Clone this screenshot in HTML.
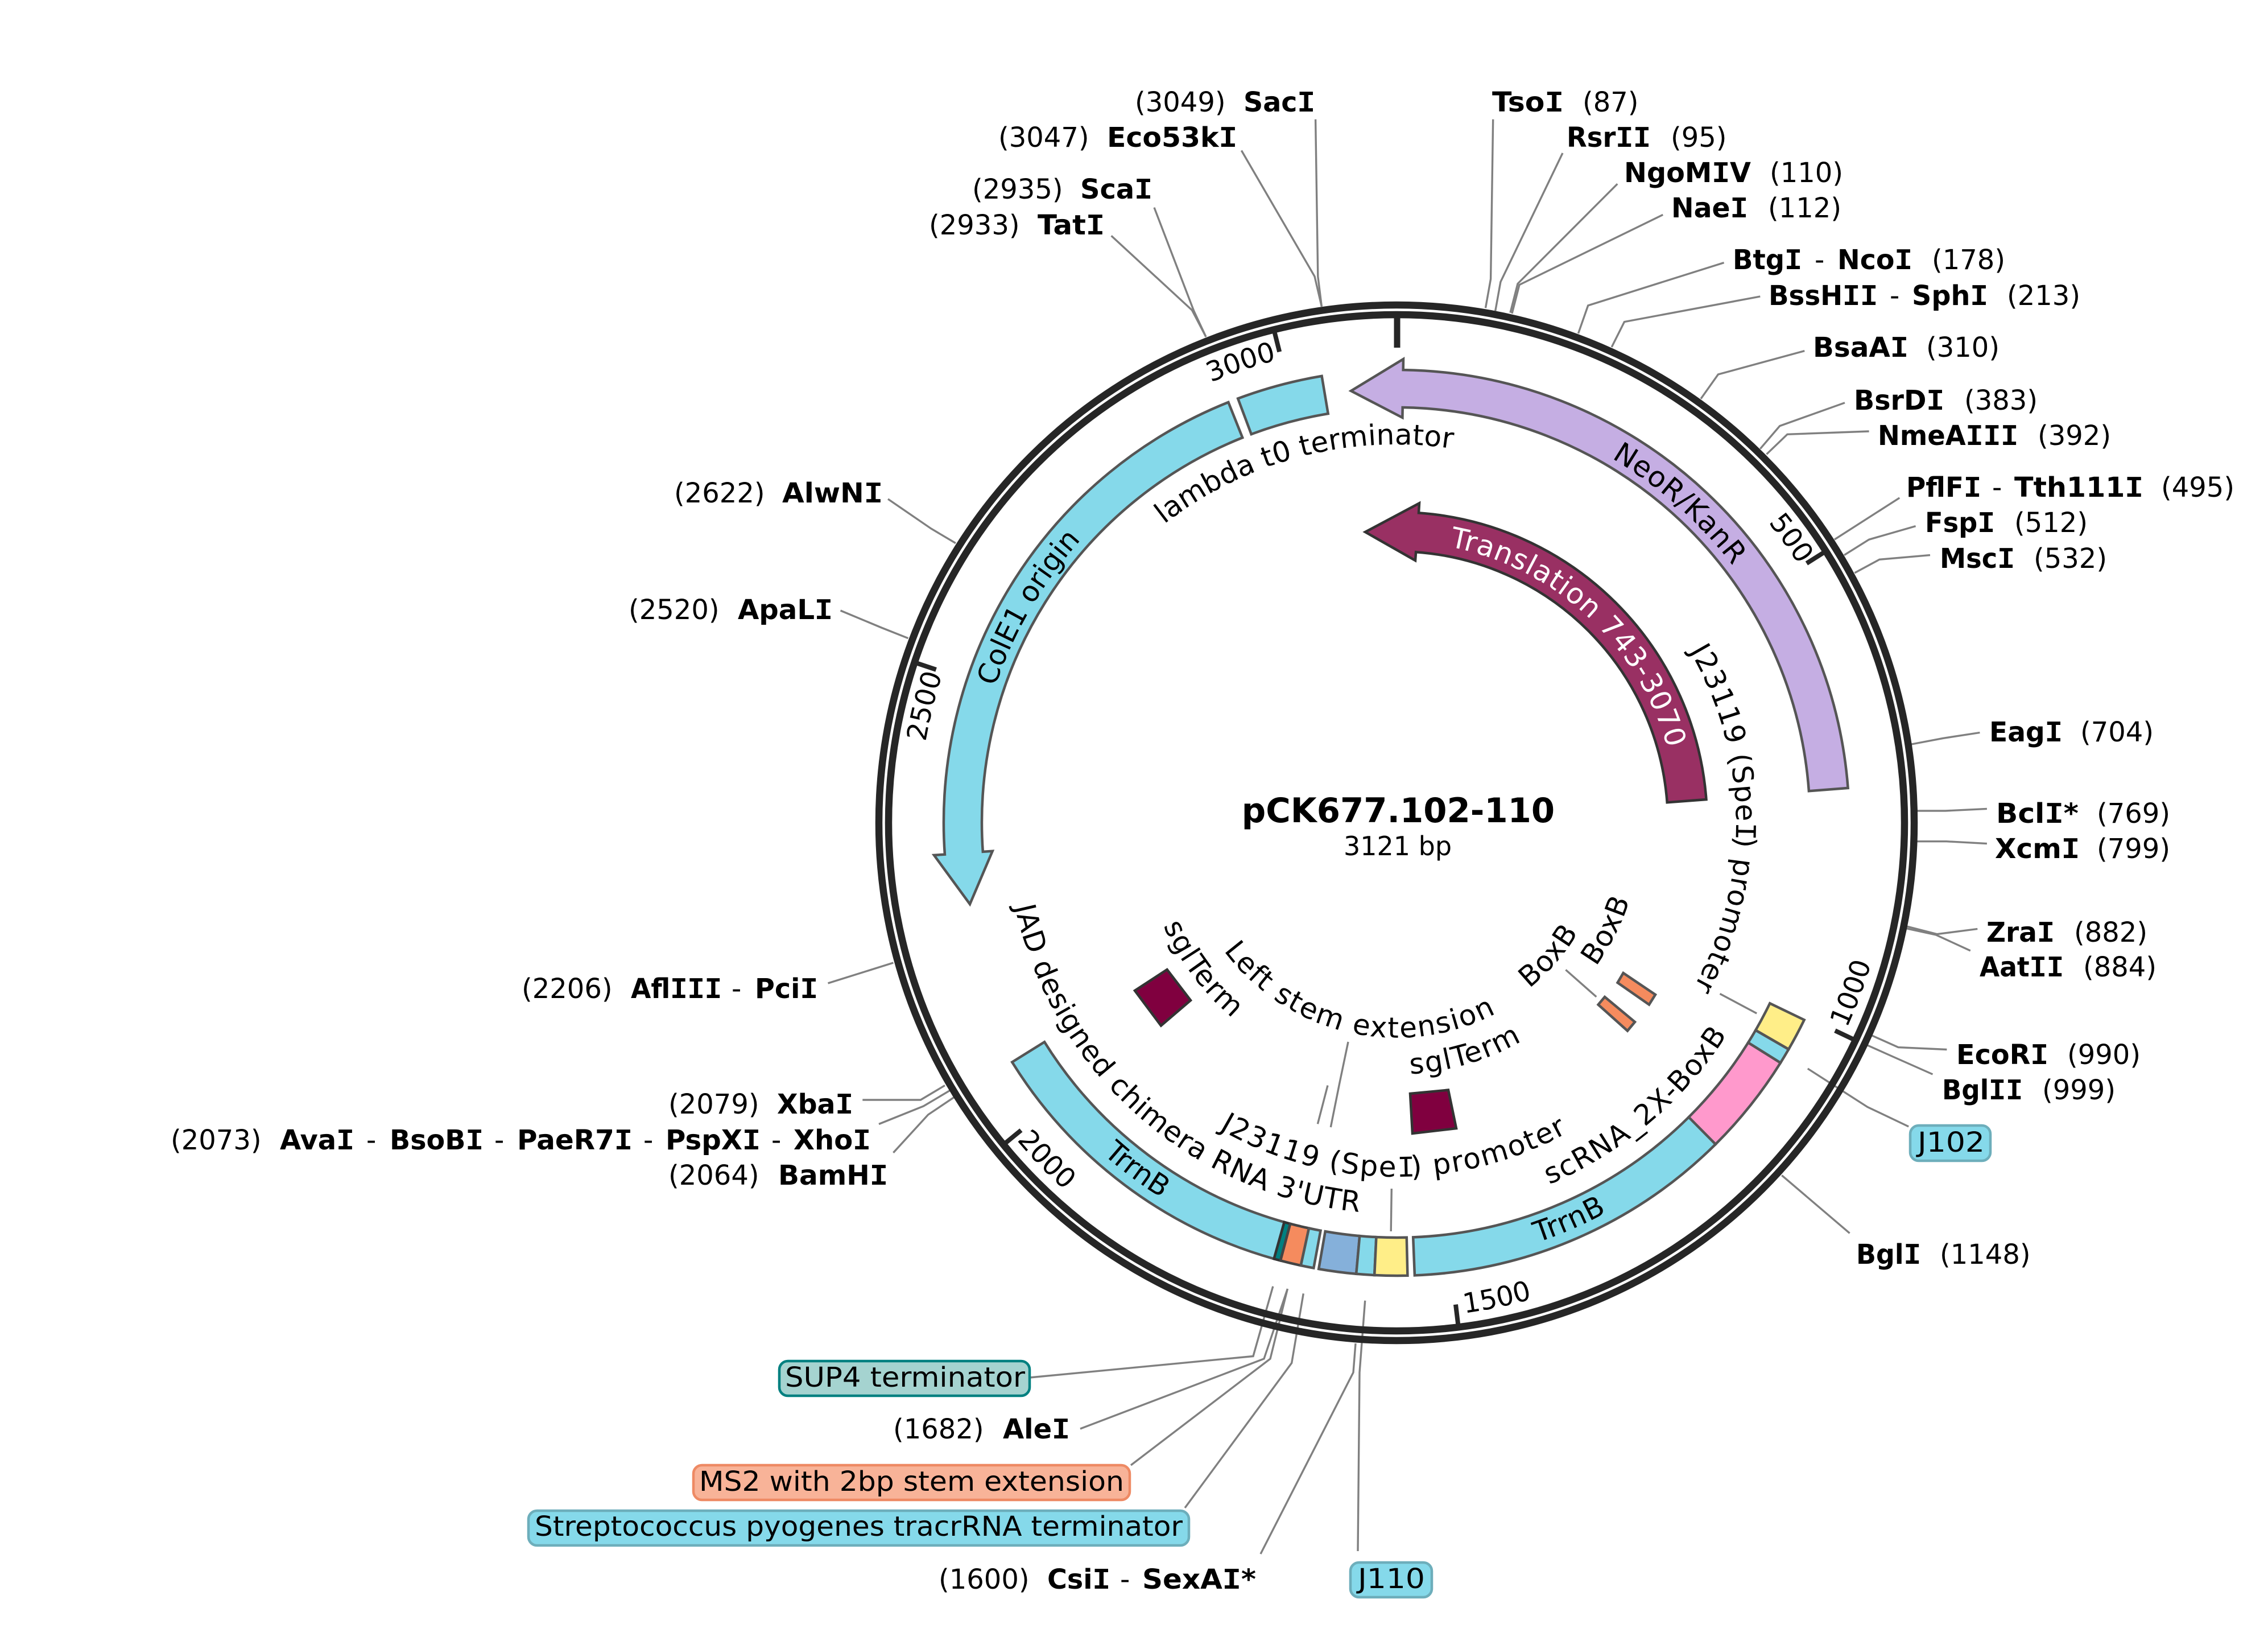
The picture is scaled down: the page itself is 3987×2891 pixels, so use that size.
<!DOCTYPE html>
<html><head><meta charset="utf-8"><title>pCK677.102-110</title>
<style>
html,body{margin:0;padding:0;background:#fff}
svg{display:block}
text{font-family:"DejaVu Sans","Liberation Sans",sans-serif;font-size:48px;fill:#000}
.b{font-weight:bold}
.i{font-family:"Liberation Mono","DejaVu Sans Mono",monospace;font-size:53px;font-weight:bold}
.j{font-family:"Liberation Mono","DejaVu Sans Mono",monospace;font-size:53px;letter-spacing:-7px}
.c{font-size:50px}
.l{fill:none;stroke:#808080;stroke-width:3.4}
.f{stroke:#555;stroke-width:4.5;stroke-linejoin:miter}
.blue{fill:#85d9ea}.yel{fill:#ffee88}
</style></head><body>
<svg xmlns="http://www.w3.org/2000/svg" width="3987" height="2891" viewBox="0 0 3987 2891">
<defs>
<path id="c744" d="M1711,1446A744,744 0 0 1 3199,1446"/>
<path id="c494" d="M1961,1446A494,494 0 0 1 2949,1446"/>
<path id="c597" d="M1858,1446A597,597 0 0 1 3052,1446"/>
<path id="c665" d="M1790,1446A665,665 0 0 1 3120,1446"/>
<path id="c745" d="M1710,1446A745,745 0 0 1 3200,1446"/>
<path id="c840" d="M1615,1446A840,840 0 0 1 3295,1446"/>
<path id="b778" d="M1677,1446A778,778 0 0 0 3233,1446"/>
<path id="b687" d="M1768,1446A687,687 0 0 0 3142,1446"/>
<path id="b622" d="M1833,1446A622,622 0 0 0 3077,1446"/>
<path id="b690" d="M1765,1446A690,690 0 0 0 3145,1446"/>
<path id="b378" d="M2077,1446A378,378 0 0 0 2833,1446"/>
<path id="b448" d="M2007,1446A448,448 0 0 0 2903,1446"/>
<path id="b442" d="M2013,1446A442,442 0 0 0 2897,1446"/>
<path id="b373" d="M2082,1446A373,373 0 0 0 2828,1446"/>
<path id="b432" d="M2023,1446A432,432 0 0 0 2887,1446"/>
<path id="b870" d="M1585,1446A870,870 0 0 0 3325,1446"/>
</defs>

<!-- connectors -->
<g class="l">
<polyline points="2312.6,209.7 2316.8,485.8 2323.4,538.8"/>
<polyline points="2182.4,264.5 2311,485.8 2323.4,538.8"/>
<polyline points="2029,364.7 2098.7,546.4 2120,592"/>
<polyline points="1953.6,414.4 2095.4,545 2120,592"/>
<polyline points="1561,877 1636.8,929 1680,954.6"/>
<polyline points="1477.5,1073 1549.4,1103 1596.5,1121.7"/>
<polyline points="2624.7,209.7 2620.6,490.3 2611.5,541.3"/>
<polyline points="2747,269 2637.9,495.4 2628.7,546.4"/>
<polyline points="2843.3,323.2 2668,498.6 2655,549.6"/>
<polyline points="2923.3,377.4 2671,500.5 2658,551"/>
<polyline points="3030.6,461.6 2791.7,536.9 2774.5,586"/>
<polyline points="3094.3,521 2855.5,565.6 2833.2,610"/>
<polyline points="3172.3,616.6 3020.4,658 2990,700.8"/>
<polyline points="3243,707.8 3128.7,748.6 3094.3,788.8"/>
<polyline points="3285.6,758 3142,763.3 3105.5,798.3"/>
<polyline points="3339.3,874.9 3224.9,948.2"/>
<polyline points="3367.6,924.6 3285.6,948.2 3242,975.6"/>
<polyline points="3393,975.6 3303.9,983.3 3260.3,1006.9"/>
<polyline points="3480.4,1287.5 3415.8,1297.4 3360.2,1308"/>
<polyline points="3492.9,1421.4 3420,1425 3370,1425"/>
<polyline points="3492.9,1482.6 3421.6,1478.7 3370,1478.7"/>
<polyline points="3476.3,1632.5 3405,1641.7 3351.9,1628"/>
<polyline points="3463.8,1670.8 3403.3,1643 3351.9,1631.8"/>
<polyline points="3422.4,1844.5 3337,1840.6 3288.9,1819"/>
<polyline points="3397.5,1888 3328.7,1857.5 3280.6,1836"/>
<polyline points="3355.2,1979.9 3283,1945.5 3177.8,1878"/>
<polyline points="3251.6,2167.3 3132.2,2065.6"/>
<polyline points="3023.5,1746.5 3088.2,1781"/>
<polyline points="2752.4,1704.4 2806.3,1751.9"/>
<polyline points="2446.3,2089 2445.2,2164"/>
<polyline points="2370,1831 2354.6,1904.7 2339.3,1981"/>
<polyline points="2334,1907.6 2316.4,1975.3"/>
<polyline points="2237.8,2260.7 2203,2383.5 1810,2421"/>
<polyline points="2263.4,2265 2222,2388 1899,2511"/>
<polyline points="2263.4,2265 2233,2388 1988,2575"/>
<polyline points="2291.3,2273.3 2270.7,2395.4 2083,2650"/>
<polyline points="2399.7,2285.7 2390,2412 2387,2726"/>
<polyline points="2383,2361 2379,2412 2216,2731"/>
<polyline points="1516.3,1933 1618.4,1933 1661,1907.6"/>
<polyline points="1545,1975.5 1623.5,1944 1669.4,1916.7"/>
<polyline points="1570.4,2025.8 1631.6,1959 1676.5,1928.8"/>
<polyline points="1455.5,1728 1570.4,1692"/>
</g>

<!-- backbone -->
<g fill="none" stroke="#262626">
<circle cx="2455" cy="1446" r="910" stroke-width="12.5"/>
<circle cx="2455" cy="1446" r="893" stroke-width="12.5"/>
<line x1="2456" y1="558" x2="2456" y2="611" stroke-width="11"/>
<g stroke-width="8">
<line x1="3175.9" y1="990.1" x2="3205.5" y2="971.4"/>
<line x1="3225.9" y1="1811.2" x2="3257.5" y2="1826.2"/>
<line x1="2559" y1="2292.6" x2="2563.2" y2="2327.3"/>
<line x1="1795" y1="1986.3" x2="1767.9" y2="2008.5"/>
<line x1="1645.6" y1="1176.8" x2="1612.4" y2="1165.7"/>
<line x1="2249.2" y1="618.3" x2="2240.7" y2="584.3"/>
</g></g>

<!-- features -->
<path class="f" fill="#c5aee3" d="M3248.6,1384.9A796,796 0 0 0 2466.7,650.1L2467,631L2375,687L2465.4,734L2465.7,716A728,728 0 0 1 3179.9,1390.2Z"/>
<path d="M2999.5,1405A546,546 0 0 0 2494,901.4L2495,884.4L2400,935L2488,985L2489.1,970.2A477,477 0 0 1 2930.7,1410.2Z" fill="#993063" stroke="#333" stroke-width="4.5"/>
<path class="f blue" d="M2176.2,700.4A796,796 0 0 1 2323.6,660.9L2334.7,727A729,729 0 0 0 2199.7,763.1Z"/>
<path class="f blue" d="M2159.4,706.9A796,796 0 0 0 1660.9,1501.6L1642,1502.9L1705,1589L1744.7,1495.7L1727.8,1496.9A729,729 0 0 1 2184.2,769.1Z"/>
<path class="f blue" d="M1779.2,1866.6A796,796 0 0 0 2239.6,2212.3L2257.7,2147.8A729,729 0 0 1 1836.1,1831.2Z"/>
<path d="M2239.6,2212.3A796,796 0 0 0 2251,2215.4L2268.2,2150.7A729,729 0 0 1 2257.7,2147.8Z" fill="#008080" stroke="#333" stroke-width="4.5"/>
<path d="M2251,2215.4A796,796 0 0 0 2286.8,2224L2301,2158.5A729,729 0 0 1 2268.2,2150.7Z" fill="#f58b5e" stroke="#444" stroke-width="4.5"/>
<path class="f blue" d="M2286.8,2224A796,796 0 0 0 2309.3,2228.5L2321.5,2162.7A729,729 0 0 1 2301,2158.5Z"/>
<path class="f" fill="#85b0da" d="M2318.2,2230.1A796,796 0 0 0 2384.2,2238.8L2390.2,2172.1A729,729 0 0 1 2329.7,2164.1Z"/>
<path class="f blue" d="M2384.2,2238.8A796,796 0 0 0 2416.2,2241L2419.4,2174.1A729,729 0 0 1 2390.2,2172.1Z"/>
<path class="f yel" d="M2416.2,2241A796,796 0 0 0 2474.4,2241.8L2472.8,2174.8A729,729 0 0 1 2419.4,2174.1Z"/>
<path class="f blue" d="M2486.9,2241.4A796,796 0 0 0 3015.9,2010.9L2968.7,1963.3A729,729 0 0 1 2484.2,2174.4Z"/>
<path class="f" fill="#ff99cc" d="M3015.9,2010.9A796,796 0 0 0 3130,1867.8L3073.2,1832.3A729,729 0 0 1 2968.7,1963.3Z"/>
<path class="f blue" d="M3130,1867.8A796,796 0 0 0 3144.3,1844L3086.3,1810.5A729,729 0 0 1 3073.2,1832.3Z"/>
<path class="f yel" d="M3144.3,1844A796,796 0 0 0 3171.7,1792.4L3111.3,1763.3A729,729 0 0 1 3086.3,1810.5Z"/>
<g fill="#80003f" stroke="#333" stroke-width="4.5">
<polygon points="2051.6,1704 2093,1758 2041,1802.5 1995,1741"/>
<polygon points="2479,1922 2546,1915.6 2560,1983 2483,1992"/>
</g>
<g fill="#f58b5e" stroke="#555" stroke-width="4.5">
<polygon points="2853.6,1710 2910,1748 2899,1765.6 2843.6,1727"/>
<polygon points="2821,1752 2874,1796 2861,1811.6 2809.6,1765.6"/>
</g>

<!-- curved labels -->
<text class="c" text-anchor="middle" transform="rotate(41.6 2455 1446)" style="letter-spacing:.9px"><textPath href="#c744" startOffset="50%">NeoR/KanR</textPath></text>
<text class="c" text-anchor="middle" transform="rotate(42.8 2455 1446)" style="letter-spacing:1.1px"><textPath href="#c494" startOffset="50%" style="fill:#fff">Translation 743-3070</textPath></text>
<text class="c" text-anchor="middle" transform="rotate(89.3 2455 1446)" style="letter-spacing:1.1px"><textPath href="#c597" startOffset="50%">J23119 (Spe<tspan class="j">I</tspan>) promoter</textPath></text>
<text class="c" text-anchor="middle" transform="rotate(-14.7 2455 1446)" style="letter-spacing:.1px"><textPath href="#c665" startOffset="50%">lambda t0 terminator</textPath></text>
<text class="c" text-anchor="middle" transform="rotate(-59.7 2455 1446)"><textPath href="#c745" startOffset="50%">ColE1 origin</textPath></text>
<text text-anchor="middle" transform="rotate(54.2 2455 1446)"><textPath href="#c840" startOffset="50%">500</textPath></text>
<text text-anchor="middle" transform="rotate(-18.7 2455 1446)"><textPath href="#c840" startOffset="50%">3000</textPath></text>
<text text-anchor="middle" transform="rotate(-76.1 2455 1446)"><textPath href="#c840" startOffset="50%">2500</textPath></text>
<text text-anchor="middle" transform="rotate(46.1 2455 1446)"><textPath href="#b870" startOffset="50%">2000</textPath></text>
<text text-anchor="middle" transform="rotate(-11.9 2455 1446)"><textPath href="#b870" startOffset="50%">1500</textPath></text>
<text text-anchor="middle" transform="rotate(-69.5 2455 1446)"><textPath href="#b870" startOffset="50%">1000</textPath></text>
<text class="c" text-anchor="middle" transform="rotate(-23.5 2455 1446)" style="letter-spacing:1px"><textPath href="#b778" startOffset="50%">TrrnB</textPath></text>
<text class="c" text-anchor="middle" transform="rotate(36.8 2455 1446)"><textPath href="#b778" startOffset="50%">TrrnB</textPath></text>
<text class="c" text-anchor="middle" transform="rotate(41.5 2455 1446)" style="letter-spacing:1px"><textPath href="#b687" startOffset="50%">JAD designed chimera RNA 3'UTR</textPath></text>
<text class="c" text-anchor="middle" transform="rotate(0.5 2455 1446)" style="letter-spacing:2.2px"><textPath href="#b622" startOffset="50%">J23119 (Spe<tspan class="j">I</tspan>) promoter</textPath></text>
<text class="c" text-anchor="middle" transform="rotate(-40.2 2455 1446)" style="letter-spacing:1.9px"><textPath href="#b690" startOffset="50%">scRNA_2X-BoxB</textPath></text>
<text class="c" text-anchor="middle" transform="rotate(12.8 2455 1446)" style="letter-spacing:2.2px"><textPath href="#b378" startOffset="50%">Left stem extension</textPath></text>
<text class="c" text-anchor="middle" transform="rotate(53 2455 1446)" style="letter-spacing:1.9px"><textPath href="#b448" startOffset="50%">sglTerm</textPath></text>
<text class="c" text-anchor="middle" transform="rotate(-16.6 2455 1446)" style="letter-spacing:2.2px"><textPath href="#b442" startOffset="50%">sglTerm</textPath></text>
<text class="c" text-anchor="middle" transform="rotate(-48.9 2455 1446)" style="letter-spacing:1.4px"><textPath href="#b373" startOffset="50%">BoxB</textPath></text>
<text class="c" text-anchor="middle" transform="rotate(-63 2455 1446)" style="letter-spacing:1.4px"><textPath href="#b432" startOffset="50%">BoxB</textPath></text>

<!-- centre -->
<text class="b" x="2458" y="1445" text-anchor="middle" style="font-size:59.3px">pCK677.102-110</text>
<text x="2457" y="1503" text-anchor="middle" style="font-size:46px">3121 bp</text>

<!-- boxed labels -->
<rect x="3358" y="1978" width="141" height="62" rx="15" fill="#85d9ea" stroke="#6daebb" stroke-width="4.5"/>
<text x="3371" y="2024" textLength="118" lengthAdjust="spacingAndGlyphs">J102</text>
<rect x="2374" y="2746" width="143" height="61" rx="15" fill="#85d9ea" stroke="#6daebb" stroke-width="4.5"/>
<text x="2387" y="2791" textLength="118" lengthAdjust="spacingAndGlyphs">J110</text>
<rect x="1370" y="2392" width="440" height="61" rx="15" fill="#a5d3d0" stroke="#008080" stroke-width="4.5"/>
<text x="1380" y="2437" textLength="422" lengthAdjust="spacingAndGlyphs">SUP4 terminator</text>
<rect x="1219" y="2575" width="767" height="61" rx="15" fill="#f8b398" stroke="#ee8a64" stroke-width="4.5"/>
<text x="1229" y="2620" textLength="747" lengthAdjust="spacingAndGlyphs">MS2 with 2bp stem extension</text>
<rect x="929" y="2655" width="1161" height="61" rx="15" fill="#85d9ea" stroke="#6daebb" stroke-width="4.5"/>
<text x="940" y="2699" textLength="1139" lengthAdjust="spacingAndGlyphs">Streptococcus pyogenes tracrRNA terminator</text>

<!-- site labels -->
<g>
<text x="1995" y="196">(3049)</text><text class="b" x="2186" y="196" textLength="126" lengthAdjust="spacingAndGlyphs">Sac<tspan class="i">I</tspan></text>
<text x="1755" y="258">(3047)</text><text class="b" x="1946" y="258" textLength="229" lengthAdjust="spacingAndGlyphs">Eco53k<tspan class="i">I</tspan></text>
<text x="1709" y="349">(2935)</text><text class="b" x="1899" y="349" textLength="127" lengthAdjust="spacingAndGlyphs">Sca<tspan class="i">I</tspan></text>
<text x="1633" y="412">(2933)</text><text class="b" x="1824" y="412" textLength="118" lengthAdjust="spacingAndGlyphs">Tat<tspan class="i">I</tspan></text>
<text class="b" x="2623" y="196" textLength="126" lengthAdjust="spacingAndGlyphs">Tso<tspan class="i">I</tspan></text><text x="2782" y="196">(87)</text>
<text class="b" x="2754" y="258" textLength="148" lengthAdjust="spacingAndGlyphs">Rsr<tspan class="i">II</tspan></text><text x="2937" y="258">(95)</text>
<text class="b" x="2855" y="320" textLength="223" lengthAdjust="spacingAndGlyphs">NgoM<tspan class="i">I</tspan>V</text><text x="3111" y="320">(110)</text>
<text class="b" x="2938" y="382" textLength="135" lengthAdjust="spacingAndGlyphs">Nae<tspan class="i">I</tspan></text><text x="3108" y="382">(112)</text>
<text class="b" x="3046" y="473" textLength="122" lengthAdjust="spacingAndGlyphs">Btg<tspan class="i">I</tspan></text><text x="3190" y="473">-</text><text class="b" x="3230" y="473" textLength="132" lengthAdjust="spacingAndGlyphs">Nco<tspan class="i">I</tspan></text><text x="3396" y="473">(178)</text>
<text class="b" x="3109" y="536" textLength="192" lengthAdjust="spacingAndGlyphs">BssH<tspan class="i">II</tspan></text><text x="3322" y="536">-</text><text class="b" x="3361" y="536" textLength="134" lengthAdjust="spacingAndGlyphs">Sph<tspan class="i">I</tspan></text><text x="3528" y="536">(213)</text>
<text class="b" x="3187" y="627" textLength="168" lengthAdjust="spacingAndGlyphs">BsaA<tspan class="i">I</tspan></text><text x="3386" y="627">(310)</text>
<text class="b" x="3259" y="720" textLength="159" lengthAdjust="spacingAndGlyphs">BsrD<tspan class="i">I</tspan></text><text x="3453" y="720">(383)</text>
<text class="b" x="3301" y="782" textLength="247" lengthAdjust="spacingAndGlyphs">NmeA<tspan class="i">III</tspan></text><text x="3582" y="782">(392)</text>
<text class="b" x="3351" y="873" textLength="132" lengthAdjust="spacingAndGlyphs">PflF<tspan class="i">I</tspan></text><text x="3502" y="873">-</text><text class="b" x="3541" y="873" textLength="227" lengthAdjust="spacingAndGlyphs">Tth111<tspan class="i">I</tspan></text><text x="3799" y="873">(495)</text>
<text class="b" x="3384" y="935" textLength="123" lengthAdjust="spacingAndGlyphs">Fsp<tspan class="i">I</tspan></text><text x="3541" y="935">(512)</text>
<text class="b" x="3410" y="998" textLength="132" lengthAdjust="spacingAndGlyphs">Msc<tspan class="i">I</tspan></text><text x="3575" y="998">(532)</text>
<text class="b" x="3497" y="1303" textLength="129" lengthAdjust="spacingAndGlyphs">Eag<tspan class="i">I</tspan></text><text x="3657" y="1303">(704)</text>
<text class="b" x="3509" y="1446" textLength="145" lengthAdjust="spacingAndGlyphs">Bcl<tspan class="i">I</tspan>*</text><text x="3686" y="1446">(769)</text>
<text class="b" x="3507" y="1508" textLength="149" lengthAdjust="spacingAndGlyphs">Xcm<tspan class="i">I</tspan></text><text x="3686" y="1508">(799)</text>
<text class="b" x="3492" y="1655" textLength="120" lengthAdjust="spacingAndGlyphs">Zra<tspan class="i">I</tspan></text><text x="3646" y="1655">(882)</text>
<text class="b" x="3480" y="1716" textLength="148" lengthAdjust="spacingAndGlyphs">Aat<tspan class="i">II</tspan></text><text x="3662" y="1716">(884)</text>
<text class="b" x="3439" y="1870" textLength="162" lengthAdjust="spacingAndGlyphs">EcoR<tspan class="i">I</tspan></text><text x="3634" y="1870">(990)</text>
<text class="b" x="3414" y="1932" textLength="142" lengthAdjust="spacingAndGlyphs">Bgl<tspan class="i">II</tspan></text><text x="3590" y="1932">(999)</text>
<text class="b" x="3263" y="2221" textLength="114" lengthAdjust="spacingAndGlyphs">Bgl<tspan class="i">I</tspan></text><text x="3410" y="2221">(1148)</text>
<text x="1185" y="883">(2622)</text><text class="b" x="1375" y="883" textLength="177" lengthAdjust="spacingAndGlyphs">AlwN<tspan class="i">I</tspan></text>
<text x="1105" y="1088">(2520)</text><text class="b" x="1297" y="1088" textLength="167" lengthAdjust="spacingAndGlyphs">ApaL<tspan class="i">I</tspan></text>
<text x="917" y="1754">(2206)</text><text class="b" x="1109" y="1754" textLength="160" lengthAdjust="spacingAndGlyphs">Afl<tspan class="i">III</tspan></text><text x="1286" y="1754">-</text><text class="b" x="1327" y="1754" textLength="111" lengthAdjust="spacingAndGlyphs">Pci<tspan class="i">I</tspan></text>
<text x="1175" y="1957">(2079)</text><text class="b" x="1366" y="1957" textLength="134" lengthAdjust="spacingAndGlyphs">Xba<tspan class="i">I</tspan></text>
<text x="300" y="2020">(2073)</text><text class="b" x="492" y="2020" textLength="131" lengthAdjust="spacingAndGlyphs">Ava<tspan class="i">I</tspan></text><text x="644" y="2020">-</text><text class="b" x="685" y="2020" textLength="165" lengthAdjust="spacingAndGlyphs">BsoB<tspan class="i">I</tspan></text><text x="869" y="2020">-</text><text class="b" x="909" y="2020" textLength="203" lengthAdjust="spacingAndGlyphs">PaeR7<tspan class="i">I</tspan></text><text x="1131" y="2020">-</text><text class="b" x="1170" y="2020" textLength="167" lengthAdjust="spacingAndGlyphs">PspX<tspan class="i">I</tspan></text><text x="1356" y="2020">-</text><text class="b" x="1395" y="2020" textLength="136" lengthAdjust="spacingAndGlyphs">Xho<tspan class="i">I</tspan></text>
<text x="1175" y="2082">(2064)</text><text class="b" x="1368" y="2082" textLength="193" lengthAdjust="spacingAndGlyphs">BamH<tspan class="i">I</tspan></text>
<text x="1570" y="2528">(1682)</text><text class="b" x="1763" y="2528" textLength="118" lengthAdjust="spacingAndGlyphs">Ale<tspan class="i">I</tspan></text>
<text x="1650" y="2792">(1600)</text><text class="b" x="1841" y="2792" textLength="111" lengthAdjust="spacingAndGlyphs">Csi<tspan class="i">I</tspan></text><text x="1969" y="2792">-</text><text class="b" x="2008" y="2792" textLength="200" lengthAdjust="spacingAndGlyphs">SexA<tspan class="i">I</tspan>*</text>
</g>
</svg>
</body></html>
